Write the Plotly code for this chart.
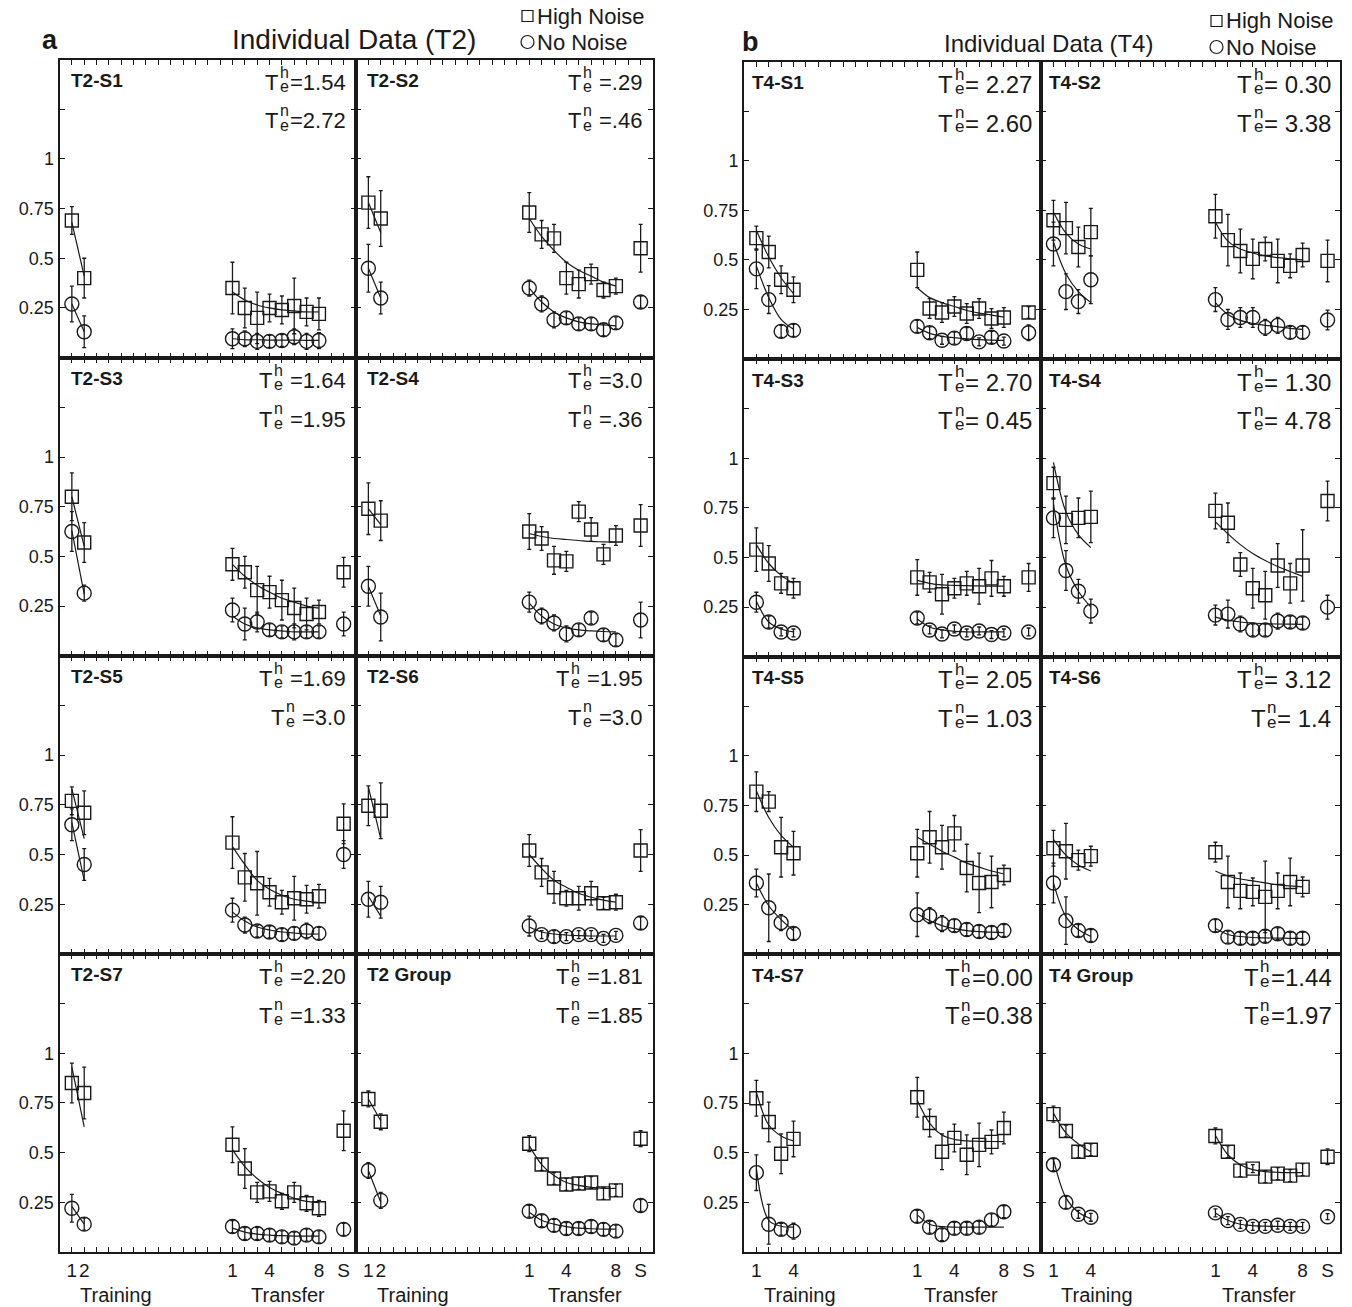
import plotly.graph_objects as go

W, H = 1352, 1307
FONT = "Liberation Sans, Arial, Helvetica, sans-serif"

# ---------------- data ----------------
T2_subjects = ["T2-S1", "T2-S2", "T2-S3", "T2-S4", "T2-S5", "T2-S6", "T2-S7", "T2 Group"]
T4_subjects = ["T4-S1", "T4-S2", "T4-S3", "T4-S4", "T4-S5", "T4-S6", "T4-S7", "T4 Group"]

T2_train_x = [1, 2]
T4_train_x = [1, 2, 3, 4]
transfer_x = [14, 15, 16, 17, 18, 19, 20, 21]
static_x = 23

tick_positions = list(range(1, 24))
T2_tick_labels = {1: "1", 2: "2", 14: "1", 17: "4", 21: "8", 23: "S"}
T4_tick_labels = {1: "1", 4: "4", 14: "1", 17: "4", 21: "8", 23: "S"}
y_tick_values = [0.25, 0.5, 0.75, 1, 1.25]
y_tick_labels = ["0.25", "0.5", "0.75", "1", ""]

te_high = {
    "T2-S1": "=1.54", "T2-S2": " =.29", "T2-S3": " =1.64", "T2-S4": " =3.0",
    "T2-S5": " =1.69", "T2-S6": " =1.95", "T2-S7": " =2.20", "T2 Group": " =1.81",
    "T4-S1": "= 2.27", "T4-S2": "= 0.30", "T4-S3": "= 2.70", "T4-S4": "= 1.30",
    "T4-S5": "= 2.05", "T4-S6": "= 3.12", "T4-S7": "=0.00", "T4 Group": "=1.44",
}
te_no = {
    "T2-S1": "=2.72", "T2-S2": " =.46", "T2-S3": " =1.95", "T2-S4": " =.36",
    "T2-S5": " =3.0", "T2-S6": " =3.0", "T2-S7": " =1.33", "T2 Group": " =1.85",
    "T4-S1": "= 2.60", "T4-S2": "= 3.38", "T4-S3": "= 0.45", "T4-S4": "= 4.78",
    "T4-S5": "= 1.03", "T4-S6": "= 1.4", "T4-S7": "=0.38", "T4 Group": "=1.97",
}

# High noise (squares)
high_train = {
    "T2-S1": [0.69, 0.40], "T2-S2": [0.78, 0.70], "T2-S3": [0.80, 0.57], "T2-S4": [0.74, 0.68],
    "T2-S5": [0.77, 0.71], "T2-S6": [0.745, 0.72], "T2-S7": [0.85, 0.80], "T2 Group": [0.77, 0.655],
    "T4-S1": [0.61, 0.54, 0.40, 0.35], "T4-S2": [0.70, 0.66, 0.565, 0.64],
    "T4-S3": [0.54, 0.47, 0.37, 0.345], "T4-S4": [0.875, 0.69, 0.70, 0.705],
    "T4-S5": [0.82, 0.77, 0.54, 0.51], "T4-S6": [0.535, 0.52, 0.475, 0.495],
    "T4-S7": [0.775, 0.655, 0.495, 0.57], "T4 Group": [0.695, 0.61, 0.505, 0.515],
}
high_train_err = {
    "T2-S1": [0.07, 0.10], "T2-S2": [0.13, 0.14], "T2-S3": [0.12, 0.10], "T2-S4": [0.13, 0.10],
    "T2-S5": [0.07, 0.11], "T2-S6": [0.10, 0.14], "T2-S7": [0.10, 0.13], "T2 Group": [0.04, 0.04],
    "T4-S1": [0.06, 0.08, 0.07, 0.065], "T4-S2": [0.10, 0.13, 0.10, 0.12],
    "T4-S3": [0.11, 0.09, 0.05, 0.05], "T4-S4": [0.08, 0.12, 0.10, 0.13],
    "T4-S5": [0.10, 0.05, 0.15, 0.11], "T4-S6": [0.09, 0.14, 0.05, 0.05],
    "T4-S7": [0.09, 0.10, 0.10, 0.09], "T4 Group": [0.04, 0.03, 0.03, 0.03],
}
high_transfer = {
    "T2-S1": [0.35, 0.25, 0.20, 0.25, 0.24, 0.26, 0.23, 0.22],
    "T2-S2": [0.73, 0.62, 0.60, 0.40, 0.37, 0.42, 0.34, 0.36],
    "T2-S3": [0.46, 0.42, 0.33, 0.32, 0.28, 0.24, 0.21, 0.22],
    "T2-S4": [0.625, 0.59, 0.48, 0.475, 0.725, 0.635, 0.51, 0.605],
    "T2-S5": [0.56, 0.385, 0.355, 0.31, 0.26, 0.28, 0.275, 0.29],
    "T2-S6": [0.52, 0.41, 0.335, 0.28, 0.28, 0.305, 0.255, 0.26],
    "T2-S7": [0.54, 0.42, 0.30, 0.305, 0.255, 0.30, 0.245, 0.22],
    "T2 Group": [0.545, 0.44, 0.37, 0.34, 0.345, 0.35, 0.295, 0.31],
    "T4-S1": [0.45, 0.255, 0.235, 0.265, 0.23, 0.255, 0.205, 0.21],
    "T4-S2": [0.72, 0.60, 0.545, 0.505, 0.555, 0.495, 0.47, 0.525],
    "T4-S3": [0.40, 0.375, 0.315, 0.345, 0.37, 0.355, 0.395, 0.355],
    "T4-S4": [0.735, 0.675, 0.465, 0.345, 0.31, 0.46, 0.37, 0.46],
    "T4-S5": [0.51, 0.59, 0.54, 0.61, 0.435, 0.36, 0.365, 0.40],
    "T4-S6": [0.515, 0.365, 0.32, 0.315, 0.29, 0.32, 0.365, 0.34],
    "T4-S7": [0.78, 0.65, 0.505, 0.575, 0.49, 0.54, 0.555, 0.625],
    "T4 Group": [0.585, 0.505, 0.41, 0.42, 0.38, 0.395, 0.385, 0.415],
}
high_transfer_err = {
    "T2-S1": [0.13, 0.10, 0.13, 0.07, 0.07, 0.14, 0.07, 0.08],
    "T2-S2": [0.10, 0.07, 0.07, 0.08, 0.07, 0.05, 0.04, 0.04],
    "T2-S3": [0.08, 0.08, 0.12, 0.08, 0.10, 0.10, 0.08, 0.06],
    "T2-S4": [0.09, 0.06, 0.07, 0.05, 0.05, 0.06, 0.05, 0.05],
    "T2-S5": [0.13, 0.12, 0.16, 0.07, 0.06, 0.11, 0.07, 0.06],
    "T2-S6": [0.08, 0.07, 0.08, 0.04, 0.06, 0.06, 0.03, 0.04],
    "T2-S7": [0.09, 0.10, 0.05, 0.05, 0.04, 0.05, 0.04, 0.04],
    "T2 Group": [0.04, 0.03, 0.03, 0.03, 0.03, 0.03, 0.03, 0.03],
    "T4-S1": [0.09, 0.05, 0.05, 0.05, 0.05, 0.05, 0.05, 0.05],
    "T4-S2": [0.11, 0.13, 0.11, 0.10, 0.06, 0.11, 0.06, 0.06],
    "T4-S3": [0.09, 0.05, 0.10, 0.05, 0.06, 0.09, 0.09, 0.05],
    "T4-S4": [0.09, 0.10, 0.06, 0.10, 0.12, 0.11, 0.10, 0.18],
    "T4-S5": [0.12, 0.13, 0.11, 0.09, 0.12, 0.15, 0.13, 0.05],
    "T4-S6": [0.05, 0.13, 0.09, 0.07, 0.18, 0.09, 0.12, 0.05],
    "T4-S7": [0.10, 0.07, 0.09, 0.07, 0.10, 0.11, 0.06, 0.08],
    "T4 Group": [0.04, 0.03, 0.03, 0.02, 0.03, 0.03, 0.03, 0.03],
}
high_static = {
    "T2-S1": None, "T2-S2": 0.55, "T2-S3": 0.42, "T2-S4": 0.655, "T2-S5": 0.655,
    "T2-S6": 0.52, "T2-S7": 0.61, "T2 Group": 0.57,
    "T4-S1": 0.235, "T4-S2": 0.495, "T4-S3": 0.40, "T4-S4": 0.785, "T4-S5": None,
    "T4-S6": None, "T4-S7": None, "T4 Group": 0.48,
}
high_static_err = {
    "T2-S1": None, "T2-S2": 0.12, "T2-S3": 0.075, "T2-S4": 0.105, "T2-S5": 0.10,
    "T2-S6": 0.105, "T2-S7": 0.10, "T2 Group": 0.04,
    "T4-S1": 0.03, "T4-S2": 0.105, "T4-S3": 0.07, "T4-S4": 0.10, "T4-S5": None,
    "T4-S6": None, "T4-S7": None, "T4 Group": 0.04,
}

# No noise (circles)
no_train = {
    "T2-S1": [0.27, 0.13], "T2-S2": [0.45, 0.30], "T2-S3": [0.625, 0.315], "T2-S4": [0.35, 0.195],
    "T2-S5": [0.65, 0.45], "T2-S6": [0.275, 0.26], "T2-S7": [0.22, 0.14], "T2 Group": [0.41, 0.26],
    "T4-S1": [0.455, 0.30, 0.14, 0.145], "T4-S2": [0.58, 0.34, 0.29, 0.40],
    "T4-S3": [0.275, 0.175, 0.125, 0.12], "T4-S4": [0.70, 0.435, 0.33, 0.23],
    "T4-S5": [0.36, 0.235, 0.16, 0.105], "T4-S6": [0.36, 0.17, 0.12, 0.095],
    "T4-S7": [0.40, 0.14, 0.115, 0.105], "T4 Group": [0.44, 0.25, 0.19, 0.175],
}
no_train_err = {
    "T2-S1": [0.09, 0.08], "T2-S2": [0.12, 0.08], "T2-S3": [0.10, 0.04], "T2-S4": [0.10, 0.12],
    "T2-S5": [0.08, 0.08], "T2-S6": [0.09, 0.08], "T2-S7": [0.07, 0.03], "T2 Group": [0.04, 0.04],
    "T4-S1": [0.10, 0.07, 0.03, 0.03], "T4-S2": [0.11, 0.09, 0.06, 0.12],
    "T4-S3": [0.05, 0.03, 0.02, 0.02], "T4-S4": [0.10, 0.10, 0.06, 0.06],
    "T4-S5": [0.07, 0.17, 0.04, 0.03], "T4-S6": [0.10, 0.12, 0.03, 0.03],
    "T4-S7": [0.09, 0.10, 0.03, 0.04], "T4 Group": [0.03, 0.03, 0.02, 0.02],
}
no_transfer = {
    "T2-S1": [0.095, 0.095, 0.082, 0.082, 0.086, 0.105, 0.082, 0.086],
    "T2-S2": [0.35, 0.27, 0.19, 0.20, 0.17, 0.17, 0.14, 0.175],
    "T2-S3": [0.23, 0.16, 0.17, 0.13, 0.12, 0.12, 0.12, 0.12],
    "T2-S4": [0.27, 0.20, 0.165, 0.11, 0.13, 0.19, 0.105, 0.08],
    "T2-S5": [0.22, 0.145, 0.115, 0.11, 0.097, 0.103, 0.115, 0.103],
    "T2-S6": [0.14, 0.097, 0.087, 0.087, 0.097, 0.097, 0.078, 0.093],
    "T2-S7": [0.128, 0.093, 0.093, 0.085, 0.076, 0.07, 0.085, 0.076],
    "T2 Group": [0.205, 0.157, 0.134, 0.118, 0.118, 0.128, 0.114, 0.105],
    "T4-S1": [0.165, 0.133, 0.095, 0.106, 0.129, 0.087, 0.11, 0.091],
    "T4-S2": [0.30, 0.20, 0.21, 0.21, 0.16, 0.17, 0.135, 0.135],
    "T4-S3": [0.195, 0.135, 0.115, 0.14, 0.12, 0.13, 0.112, 0.12],
    "T4-S4": [0.21, 0.215, 0.165, 0.135, 0.135, 0.18, 0.175, 0.17],
    "T4-S5": [0.20, 0.195, 0.155, 0.145, 0.125, 0.115, 0.11, 0.12],
    "T4-S6": [0.145, 0.087, 0.081, 0.081, 0.091, 0.104, 0.081, 0.081],
    "T4-S7": [0.18, 0.125, 0.087, 0.12, 0.12, 0.125, 0.162, 0.203],
    "T4 Group": [0.197, 0.158, 0.139, 0.129, 0.129, 0.135, 0.129, 0.129],
}
no_transfer_err = {
    "T2-S1": [0.05, 0.04, 0.04, 0.03, 0.03, 0.04, 0.04, 0.04],
    "T2-S2": [0.04, 0.04, 0.04, 0.03, 0.03, 0.03, 0.03, 0.03],
    "T2-S3": [0.06, 0.08, 0.05, 0.03, 0.03, 0.04, 0.03, 0.03],
    "T2-S4": [0.05, 0.04, 0.04, 0.04, 0.03, 0.03, 0.03, 0.03],
    "T2-S5": [0.06, 0.04, 0.03, 0.03, 0.03, 0.03, 0.04, 0.03],
    "T2-S6": [0.05, 0.02, 0.03, 0.02, 0.02, 0.02, 0.02, 0.02],
    "T2-S7": [0.03, 0.03, 0.03, 0.03, 0.03, 0.03, 0.03, 0.03],
    "T2 Group": [0.03, 0.03, 0.03, 0.03, 0.03, 0.03, 0.03, 0.03],
    "T4-S1": [0.03, 0.03, 0.02, 0.03, 0.03, 0.02, 0.03, 0.02],
    "T4-S2": [0.06, 0.05, 0.05, 0.05, 0.04, 0.04, 0.03, 0.03],
    "T4-S3": [0.03, 0.02, 0.02, 0.02, 0.02, 0.02, 0.02, 0.02],
    "T4-S4": [0.05, 0.07, 0.04, 0.03, 0.03, 0.04, 0.03, 0.03],
    "T4-S5": [0.11, 0.04, 0.04, 0.03, 0.03, 0.03, 0.03, 0.03],
    "T4-S6": [0.03, 0.03, 0.03, 0.03, 0.03, 0.03, 0.03, 0.03],
    "T4-S7": [0.03, 0.03, 0.03, 0.03, 0.03, 0.03, 0.03, 0.03],
    "T4 Group": [0.02, 0.02, 0.02, 0.02, 0.02, 0.02, 0.02, 0.02],
}
no_static = {
    "T2-S1": None, "T2-S2": 0.28, "T2-S3": 0.16, "T2-S4": 0.18, "T2-S5": 0.50,
    "T2-S6": 0.155, "T2-S7": 0.114, "T2 Group": 0.234,
    "T4-S1": 0.133, "T4-S2": 0.197, "T4-S3": 0.125, "T4-S4": 0.25, "T4-S5": None,
    "T4-S6": None, "T4-S7": None, "T4 Group": 0.178,
}
no_static_err = {
    "T2-S1": None, "T2-S2": 0.03, "T2-S3": 0.06, "T2-S4": 0.09, "T2-S5": 0.07,
    "T2-S6": 0.03, "T2-S7": 0.03, "T2 Group": 0.03,
    "T4-S1": 0.04, "T4-S2": 0.05, "T4-S3": 0.02, "T4-S4": 0.06, "T4-S5": None,
    "T4-S6": None, "T4-S7": None, "T4 Group": 0.015,
}

# Fitted exponential curves
fit_high_train = {
    "T2-S1": [0.68, 0.41], "T2-S2": [0.78, 0.63], "T2-S3": [0.80, 0.55], "T2-S4": [0.74, 0.66],
    "T2-S5": [0.83, 0.58], "T2-S6": [0.84, 0.58], "T2-S7": [0.93, 0.63], "T2 Group": [0.77, 0.66],
    "T4-S1": [0.65, 0.515, 0.41, 0.33], "T4-S2": [0.74, 0.635, 0.58, 0.555],
    "T4-S3": [0.565, 0.47, 0.41, 0.37], "T4-S4": [0.98, 0.73, 0.615, 0.55],
    "T4-S5": [0.825, 0.69, 0.60, 0.54], "T4-S6": [0.58, 0.50, 0.45, 0.42],
    "T4-S7": [0.805, 0.64, 0.585, 0.56], "T4 Group": [0.70, 0.60, 0.545, 0.505],
}
fit_high_transfer = {
    "T2-S1": [0.33, 0.29, 0.265, 0.25, 0.24, 0.235, 0.23, 0.23],
    "T2-S2": [0.70, 0.61, 0.54, 0.48, 0.44, 0.41, 0.38, 0.36],
    "T2-S3": [0.46, 0.40, 0.355, 0.32, 0.29, 0.27, 0.25, 0.24],
    "T2-S4": [0.615, 0.60, 0.59, 0.585, 0.58, 0.575, 0.573, 0.571],
    "T2-S5": [0.54, 0.45, 0.37, 0.325, 0.295, 0.275, 0.265, 0.258],
    "T2-S6": [0.50, 0.43, 0.37, 0.335, 0.305, 0.285, 0.27, 0.26],
    "T2-S7": [0.515, 0.43, 0.37, 0.325, 0.295, 0.27, 0.255, 0.248],
    "T2 Group": [0.535, 0.44, 0.385, 0.35, 0.335, 0.325, 0.32, 0.32],
    "T4-S1": [0.36, 0.31, 0.285, 0.265, 0.245, 0.232, 0.222, 0.212],
    "T4-S2": [0.69, 0.595, 0.555, 0.535, 0.52, 0.512, 0.506, 0.50],
    "T4-S3": [0.385, 0.37, 0.362, 0.36, 0.358, 0.357, 0.356, 0.356],
    "T4-S4": [0.68, 0.62, 0.565, 0.52, 0.485, 0.455, 0.43, 0.405],
    "T4-S5": [0.59, 0.555, 0.52, 0.49, 0.46, 0.44, 0.42, 0.405],
    "T4-S6": [0.42, 0.395, 0.38, 0.37, 0.36, 0.35, 0.345, 0.34],
    "T4-S7": [0.765, 0.65, 0.59, 0.568, 0.56, 0.558, 0.557, 0.556],
    "T4 Group": [0.587, 0.49, 0.44, 0.415, 0.405, 0.402, 0.40, 0.40],
}
fit_no_train = {
    "T2-S1": [0.27, 0.13], "T2-S2": [0.45, 0.30], "T2-S3": [0.63, 0.31], "T2-S4": [0.35, 0.20],
    "T2-S5": [0.66, 0.37], "T2-S6": [0.29, 0.19], "T2-S7": [0.23, 0.14], "T2 Group": [0.41, 0.25],
    "T4-S1": [0.47, 0.31, 0.20, 0.15], "T4-S2": [0.59, 0.43, 0.34, 0.285],
    "T4-S3": [0.28, 0.175, 0.14, 0.125], "T4-S4": [0.77, 0.46, 0.33, 0.25],
    "T4-S5": [0.36, 0.245, 0.175, 0.12], "T4-S6": [0.36, 0.19, 0.125, 0.09],
    "T4-S7": [0.42, 0.16, 0.13, 0.125], "T4 Group": [0.467, 0.274, 0.20, 0.168],
}
fit_no_transfer = {
    "T2-S1": [0.095, 0.09, 0.09, 0.088, 0.088, 0.088, 0.087, 0.087],
    "T2-S2": [0.35, 0.28, 0.23, 0.20, 0.18, 0.17, 0.165, 0.16],
    "T2-S3": [0.20, 0.16, 0.14, 0.13, 0.125, 0.12, 0.12, 0.12],
    "T2-S4": [0.265, 0.20, 0.16, 0.14, 0.13, 0.125, 0.122, 0.12],
    "T2-S5": [0.21, 0.165, 0.135, 0.12, 0.11, 0.105, 0.10, 0.10],
    "T2-S6": [0.135, 0.11, 0.10, 0.095, 0.092, 0.09, 0.09, 0.09],
    "T2-S7": [0.12, 0.10, 0.09, 0.085, 0.082, 0.08, 0.08, 0.08],
    "T2 Group": [0.20, 0.16, 0.14, 0.128, 0.12, 0.117, 0.115, 0.115],
    "T4-S1": [0.16, 0.13, 0.115, 0.108, 0.102, 0.098, 0.096, 0.095],
    "T4-S2": [0.285, 0.225, 0.195, 0.18, 0.17, 0.163, 0.155, 0.15],
    "T4-S3": [0.19, 0.15, 0.135, 0.128, 0.125, 0.125, 0.125, 0.125],
    "T4-S4": [0.20, 0.185, 0.175, 0.17, 0.167, 0.165, 0.164, 0.163],
    "T4-S5": [0.205, 0.17, 0.145, 0.13, 0.12, 0.115, 0.112, 0.11],
    "T4-S6": [0.13, 0.10, 0.09, 0.085, 0.083, 0.082, 0.081, 0.081],
    "T4-S7": [0.187, 0.14, 0.128, 0.125, 0.125, 0.125, 0.125, 0.125],
    "T4 Group": [0.197, 0.16, 0.14, 0.133, 0.13, 0.129, 0.128, 0.128],
}

# ---------------- layout helpers ----------------
CW = {"=": 0.584, ".": 0.278, " ": 0.278}


def text_w(s, size):
    return sum(CW.get(ch, 0.556) for ch in s) * size


def px(xp):
    return xp / W


def py(yp):
    return 1 - yp / H


panels = [
    dict(letter="a", title="Individual Data (T2)", subjects=T2_subjects, train_x=T2_train_x,
         ticks=T2_tick_labels, cols=[(59.5, 356.0), (356.0, 653.0)], top=59.5, bottom=1252.0,
         vsize=22, ssize=16, rpad=11, lpad=9, title_size=28, title_x=354, title_y=39,
         letter_x=50, letter_y=40, leg_x=521, leg_y=(16, 42), train_lab=4.6, trans_lab=18.5),
    dict(letter="b", title="Individual Data (T4)", subjects=T4_subjects, train_x=T4_train_x,
         ticks=T4_tick_labels, cols=[(744.0, 1041.0), (1041.0, 1340.0)], top=61.5, bottom=1252.0,
         vsize=24, ssize=17, rpad=9, lpad=6, title_size=24, title_x=1048, title_y=44,
         letter_x=750, letter_y=42, leg_x=1210, leg_y=(21, 47), train_lab=4.5, trans_lab=17.5),
]

fig = go.Figure()
annotations = []
shapes = []
layout_axes = {}

BLACK = "#1a1a1a"


def ann(x, y, text, size, xanchor="left", bold=False, pad=1):
    annotations.append(dict(x=px(x), y=py(y), xref="paper", yref="paper",
                            text=("<b>%s</b>" % text) if bold else text, showarrow=False,
                            xanchor=xanchor, yanchor="middle", borderpad=pad,
                            font=dict(family=FONT, size=size, color=BLACK)))


n = 0
for P in panels:
    rowh = (P["bottom"] - P["top"]) / 4
    for i, name in enumerate(P["subjects"]):
        r, c = divmod(i, 2)
        n += 1
        xs = "" if n == 1 else str(n)
        l, rgt = P["cols"][c]
        t = P["top"] + r * rowh
        b = t + rowh
        bottom_row = r == 3
        left_col = c == 0

        layout_axes["xaxis" + xs] = dict(
            domain=[px(l), px(rgt)], anchor="y" + xs, range=[0, 24],
            tickmode="array", tickvals=tick_positions,
            ticktext=[P["ticks"].get(v, "") for v in tick_positions],
            showticklabels=bottom_row, tickangle=0, ticks="inside", ticklen=5, tickwidth=1.2,
            tickcolor=BLACK, showline=True, linewidth=2, linecolor=BLACK, mirror="ticks",
            showgrid=False, zeroline=False, tickfont=dict(family=FONT, size=19, color=BLACK),
        )
        layout_axes["yaxis" + xs] = dict(
            domain=[py(b), py(t)], anchor="x" + xs, range=[0, 1.5],
            tickmode="array", tickvals=y_tick_values, ticktext=y_tick_labels,
            showticklabels=left_col, ticks="inside", ticklen=5, tickwidth=1.2,
            tickcolor=BLACK, showline=True, linewidth=2, linecolor=BLACK, mirror="ticks",
            showgrid=False, zeroline=False, tickfont=dict(family=FONT, size=18, color=BLACK),
        )
        xa, ya = "x" + xs, "y" + xs

        # fitted curves
        for fx, fy in ((P["train_x"], fit_high_train[name]), (transfer_x, fit_high_transfer[name]),
                       (P["train_x"], fit_no_train[name]), (transfer_x, fit_no_transfer[name])):
            fig.add_trace(go.Scatter(x=fx, y=fy, mode="lines", xaxis=xa, yaxis=ya,
                                     line=dict(color=BLACK, width=1.2, shape="spline", smoothing=1.0),
                                     showlegend=False, hoverinfo="skip"))

        # data points
        for vals_t, err_t, vals_tr, err_tr, vs, es, sym, sz in (
            (high_train, high_train_err, high_transfer, high_transfer_err, high_static, high_static_err,
             "square-open", 13),
            (no_train, no_train_err, no_transfer, no_transfer_err, no_static, no_static_err,
             "circle-open", 14),
        ):
            x = list(P["train_x"]) + list(transfer_x)
            y = list(vals_t[name]) + list(vals_tr[name])
            e = list(err_t[name]) + list(err_tr[name])
            if vs[name] is not None:
                x.append(static_x)
                y.append(vs[name])
                e.append(es[name])
            fig.add_trace(go.Scatter(
                x=x, y=y, mode="markers", xaxis=xa, yaxis=ya,
                marker=dict(symbol=sym, size=sz, color=BLACK, line=dict(width=1.4, color=BLACK)),
                error_y=dict(type="data", array=e, visible=True, color=BLACK, thickness=1.3, width=2),
                showlegend=False))

        # subplot label
        ann(l + P["lpad"], t + 21, name, 19, bold=True)

        # time-constant annotations: T with stacked superscript / subscript e (left to right)
        x_end = rgt - P["rpad"]
        vs_, ss_ = P["vsize"], P["ssize"]
        for k, (sup, raw) in enumerate((("h", te_high[name]), ("n", te_no[name]))):
            cy = t + 23 + k * 38.5
            val = raw.lstrip(" ")
            lead = (len(raw) - len(val)) * 0.278 * vs_
            x0 = x_end - (0.611 * vs_ + 0.556 * ss_ + lead + text_w(val, vs_) + 3)
            ann(x0, cy, "T", vs_, pad=0)
            x_he = x0 + 0.611 * vs_ + 1.5
            ann(x_he, cy - 10.5, sup, ss_, pad=0)
            ann(x_he, cy + 4, "e", ss_, pad=0)
            ann(x_he + 0.556 * ss_ + lead + 1, cy, val, vs_, pad=0)

        # axis titles under bottom row
        if bottom_row:
            unit = (rgt - l) / 24
            for lab, pos in (("Training", P["train_lab"]), ("Transfer", P["trans_lab"])):
                ann(l + pos * unit, 1295, lab, 20, xanchor="center")

    # panel letter, title, legend
    ann(P["letter_x"], P["letter_y"], P["letter"], 27, xanchor="center", bold=True)
    ann(P["title_x"], P["title_y"], P["title"], P["title_size"], xanchor="center")
    lx = P["leg_x"]
    y1, y2 = P["leg_y"]
    shapes.append(dict(type="rect", xref="paper", yref="paper", x0=px(lx + 1), x1=px(lx + 12),
                       y0=py(y1 + 5.5), y1=py(y1 - 5.5), line=dict(color=BLACK, width=1.2)))
    shapes.append(dict(type="circle", xref="paper", yref="paper", x0=px(lx), x1=px(lx + 13),
                       y0=py(y2 + 6.5), y1=py(y2 - 6.5), line=dict(color=BLACK, width=1.2)))
    ann(lx + 14, y1, "High Noise", 22)
    ann(lx + 14, y2, "No Noise", 22)

fig.update_layout(
    width=W, height=H, margin=dict(l=0, r=0, t=0, b=0),
    paper_bgcolor="white", plot_bgcolor="white", showlegend=False,
    annotations=annotations, shapes=shapes, font=dict(family=FONT, color=BLACK),
    **layout_axes,
)

fig.write_html(
    "out.html",
    config={"displayModeBar": False},
    post_script="document.body.style.margin='0px';document.body.style.padding='0px';"
                "document.documentElement.style.overflow='hidden';",
)
